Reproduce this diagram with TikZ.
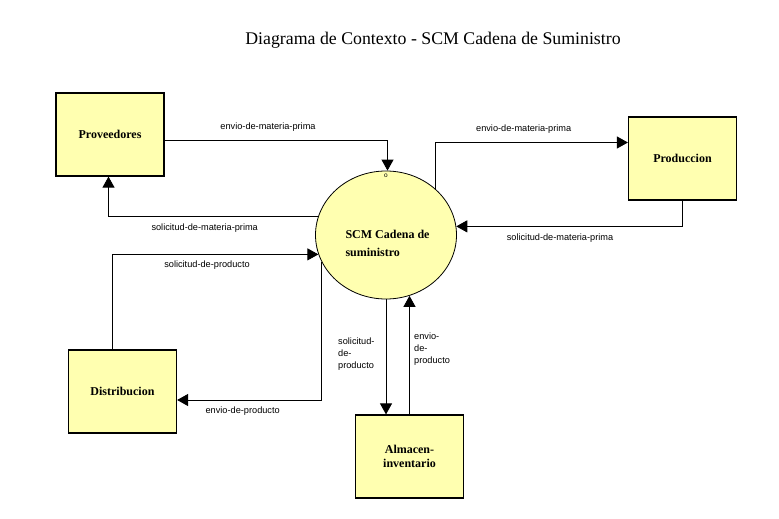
\documentclass[tikz,border=0pt]{standalone}
\usepackage{fontspec}
\setmainfont{Liberation Serif}
\setsansfont{Liberation Sans}
\usetikzlibrary{arrows.meta,shapes.geometric}

\definecolor{boxyellow}{RGB}{255,255,176}

\tikzset{
  entity/.style={draw, line width=1.2pt, fill=boxyellow,
                 minimum width=108pt, minimum height=83pt, inner sep=0pt,
                 align=center, font=\fontsize{12}{14}\selectfont\bfseries},
  flow/.style={line width=0.9pt, -{Triangle[length=11pt,width=12pt]}},
  flowlabel/.style={inner sep=0pt, align=left,
                    font=\sffamily\fontsize{9.2}{12}\selectfont}
}

\begin{document}
\begin{tikzpicture}[x=1pt, y=-1pt]

    \useasboundingbox (0,0) rectangle (779,519);

    % Title
    \node[font=\fontsize{17.8}{20}\selectfont] (title) at (433,40)
        {Diagrama de Contexto - SCM Cadena de Suministro};

    % Central process
    \node[draw, ellipse, fill=boxyellow, line width=0.8pt,
          minimum width=141pt, minimum height=128pt, inner sep=0pt] (scm) at (386,235) {};
    \node[align=left, inner sep=0pt,
          font=\fontsize{12}{18}\selectfont\bfseries] (scmtext) at (387.5,243) {
      SCM Cadena de\\
      suministro
    };
    \node[inner sep=0pt, font=\sffamily\fontsize{6.5}{6.5}\selectfont] (port) at (386,176) {o};

    % External entities
    \node[entity] (prov) at (110,134.5) {Proveedores};
    \node[entity] (prod) at (682.5,158.5) {Produccion};
    \node[entity] (dist) at (122.5,391.5) {Distribucion};
    \node[entity] (alm)  at (409.5,456.5) {Almacen-\\inventario};

    % --------------------
    % Flows
    % --------------------

    \draw[flow] ([yshift=-5.5pt]prov.east) -| ([xshift=1.5pt]scm.north);
    \draw[flow] (scm.165) -| ([xshift=-1.5pt]prov.south);

    \draw[flow] (scm.43) |- ([yshift=16pt]prod.west);
    \draw[flow] (prod.south) |- (scm.7);

    \draw[flow] ([xshift=-10.5pt]dist.north) |- (scm.196);
    \draw[flow] (scm.203) |- ([yshift=-8.5pt]dist.east);

    \draw[flow] (scm.south) -- (scm.south |- alm.north);
    \draw[flow] (alm.north) -- (alm.north |- scm.291);

    % Flow labels
    \node[flowlabel] (l1) at (268,127) {envio-de-materia-prima};
    \node[flowlabel] (l2) at (204.7,228.3) {solicitud-de-materia-prima};
    \node[flowlabel] (l3) at (523.7,129) {envio-de-materia-prima};
    \node[flowlabel] (l4) at (560,237.7) {solicitud-de-materia-prima};
    \node[flowlabel] (l5) at (207,265) {solicitud-de-producto};
    \node[flowlabel] (l6) at (242.7,411) {envio-de-producto};
    \node[flowlabel, anchor=west] (l7) at (338,354) {solicitud-\\de-\\producto};
    \node[flowlabel, anchor=west] (l8) at (414,349.3) {envio-\\de-\\producto};

\end{tikzpicture}
\end{document}
